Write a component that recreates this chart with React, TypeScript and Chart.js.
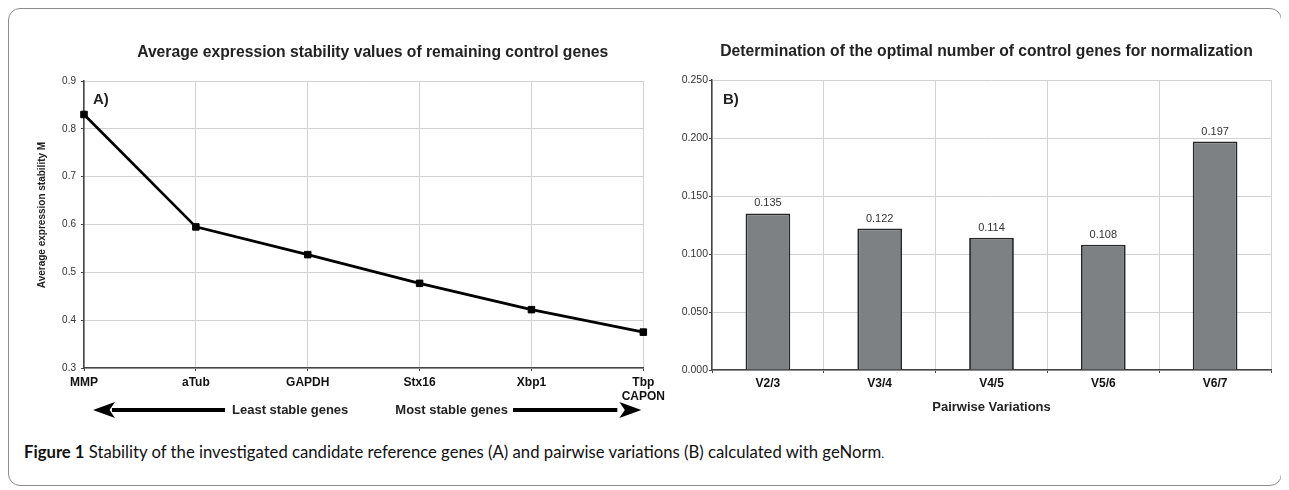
import React, { useEffect, useRef } from "react";
import { Chart, registerables } from "chart.js";

Chart.register(...registerables);

// ---------- data ----------
const geneLabels: (string | string[])[] = ["MMP", "aTub", "GAPDH", "Stx16", "Xbp1", ["Tbp", "CAPON"]];
const stabilityM = [0.83, 0.595, 0.537, 0.477, 0.422, 0.375];
const mAxisMin = 0.3;
const mAxisMax = 0.9;
const mAxisStep = 0.1;

const pairLabels = ["V2/3", "V3/4", "V4/5", "V5/6", "V6/7"];
const pairValues = [0.135, 0.122, 0.114, 0.108, 0.197];
const vAxisMin = 0;
const vAxisMax = 0.25;
const vAxisStep = 0.05;

const titleA = "Average expression stability values of remaining control genes";
const titleB = "Determination of the optimal number of control genes for normalization";
const yTitleA = "Average expression stability M";
const xTitleB = "Pairwise Variations";
const leastText = "Least stable genes";
const mostText = "Most stable genes";

const FONT = "'Liberation Sans', Arial, sans-serif";
const GRID = "#d2d2d2";
const AXIS = "#444";

function arrowHead(ctx: CanvasRenderingContext2D, tipX: number, baseX: number, y: number, half: number) {
  ctx.beginPath();
  ctx.moveTo(tipX, y);
  ctx.lineTo(baseX, y - half);
  ctx.lineTo(baseX - (baseX - tipX) * 0.25, y);
  ctx.lineTo(baseX, y + half);
  ctx.closePath();
  ctx.fill();
}

const annotA = {
  id: "annotA",
  afterDraw(chart: any) {
    const { ctx, chartArea } = chart;
    const { left, right, top, bottom } = chartArea;
    ctx.save();
    ctx.fillStyle = "#222";
    ctx.textAlign = "center";
    ctx.textBaseline = "middle";
    ctx.font = `bold 15.7px ${FONT}`;
    ctx.fillText(titleA, (left + right) / 2 + 9, top - 28);
    // panel letter
    ctx.textAlign = "left";
    ctx.font = `bold 15px ${FONT}`;
    ctx.fillText("A)", left + 9, top + 19);
    // y title
    ctx.save();
    ctx.translate(33, top + 134);
    ctx.rotate(-Math.PI / 2);
    ctx.textAlign = "center";
    ctx.font = `bold 10px ${FONT}`;
    ctx.fillText(yTitleA, 0, 0);
    ctx.restore();
    // arrows
    const y = bottom + 42;
    ctx.fillStyle = "#000";
    ctx.fillRect(left + 28, y - 2, 141 - 28, 4);
    arrowHead(ctx, left + 9, left + 31, y, 8);
    ctx.fillRect(left + 429, y - 2, right - 26 - (left + 429), 4);
    arrowHead(ctx, right - 2, right - 24, y, 8);
    ctx.fillStyle = "#222";
    ctx.font = `bold 13px ${FONT}`;
    ctx.textAlign = "left";
    ctx.fillText(leastText, left + 148, y);
    ctx.textAlign = "right";
    ctx.fillText(mostText, left + 424, y);
    ctx.restore();
  },
};

const annotB = {
  id: "annotB",
  afterDraw(chart: any) {
    const { ctx, chartArea } = chart;
    const { left, right, top, bottom } = chartArea;
    ctx.save();
    ctx.fillStyle = "#222";
    ctx.textAlign = "center";
    ctx.textBaseline = "middle";
    ctx.font = `bold 15.7px ${FONT}`;
    ctx.fillText(titleB, (left + right) / 2 - 5, top - 28);
    ctx.font = `bold 13px ${FONT}`;
    ctx.fillText(xTitleB, (left + right) / 2, bottom + 37);
    ctx.textAlign = "left";
    ctx.font = `bold 15px ${FONT}`;
    ctx.fillText("B)", left + 11, top + 20);
    // value labels
    const meta = chart.getDatasetMeta(0);
    ctx.fillStyle = "#333";
    ctx.textAlign = "center";
    ctx.font = `11px ${FONT}`;
    meta.data.forEach((bar: any, i: number) => {
      ctx.fillText(pairValues[i].toFixed(3), bar.x, bar.y - 10);
    });
    ctx.restore();
  },
};

export default function App() {
  const c1 = useRef<HTMLCanvasElement>(null);
  const c2 = useRef<HTMLCanvasElement>(null);

  useEffect(() => {
    const chartA = new Chart(c1.current!, {
      type: "line",
      data: {
        labels: geneLabels as any,
        datasets: [
          {
            data: stabilityM,
            borderColor: "#000",
            backgroundColor: "#000",
            borderWidth: 2.7,
            pointStyle: "rect",
            pointRadius: 4.6,
            pointBorderWidth: 1,
            pointBackgroundColor: "#000",
            pointBorderColor: "#000",
            tension: 0,
          },
        ],
      },
      options: {
        responsive: false,
        animation: false,
        layout: { padding: { top: 72, right: 22, bottom: 11, left: 0 } },
        plugins: { legend: { display: false }, tooltip: { enabled: false }, title: { display: false } },
        scales: {
          x: {
            offset: false,
            grid: { color: GRID, tickColor: AXIS, tickLength: 3, lineWidth: 1 },
            border: { color: AXIS, width: 1.5 },
            ticks: {
              autoSkip: false,
              maxRotation: 0,
              padding: 4,
              color: "#111",
              font: { family: FONT, size: 12, weight: "bold" },
            },
            afterFit(s: any) {
              s.height = 50;
            },
          },
          y: {
            min: mAxisMin,
            max: mAxisMax,
            grid: { color: GRID, tickColor: AXIS, tickLength: 3, lineWidth: 1 },
            border: { color: AXIS, width: 1.5 },
            ticks: {
              stepSize: mAxisStep,
              padding: 5,
              color: "#333",
              font: { family: FONT, size: 10 },
              callback: (v: any) => Number(v).toFixed(1),
            },
            afterFit(s: any) {
              s.width = 75;
            },
          },
        },
      },
      plugins: [annotA],
    });

    const chartB = new Chart(c2.current!, {
      type: "bar",
      data: {
        labels: pairLabels,
        datasets: [
          {
            data: pairValues,
            backgroundColor: "#7e8184",
            borderColor: "#262626",
            borderWidth: 1.8,
            barPercentage: 0.4,
            categoryPercentage: 1,
          },
        ],
      },
      options: {
        responsive: false,
        animation: false,
        layout: { padding: { top: 71, right: 10, bottom: 9, left: 0 } },
        plugins: { legend: { display: false }, tooltip: { enabled: false }, title: { display: false } },
        scales: {
          x: {
            offset: true,
            grid: { offset: true, color: GRID, tickColor: AXIS, tickLength: 3, lineWidth: 1 },
            border: { color: AXIS, width: 1.5 },
            ticks: {
              autoSkip: false,
              maxRotation: 0,
              padding: 3,
              color: "#111",
              font: { family: FONT, size: 12, weight: "bold" },
            },
            afterFit(s: any) {
              s.height = 50;
            },
          },
          y: {
            min: vAxisMin,
            max: vAxisMax,
            grid: { color: GRID, tickColor: AXIS, tickLength: 3, lineWidth: 1 },
            border: { color: AXIS, width: 1.5 },
            ticks: {
              stepSize: vAxisStep,
              padding: 1,
              color: "#333",
              font: { family: FONT, size: 10.5 },
              callback: (v: any) => Number(v).toFixed(3),
            },
            afterFit(s: any) {
              s.width = 43;
            },
          },
        },
      },
      plugins: [annotB],
    });

    return () => {
      chartA.destroy();
      chartB.destroy();
    };
  }, []);

  return (
    <div
      style={{
        position: "relative",
        width: 1274,
        height: 478,
        border: "1px solid #8c8c8c",
        borderRadius: 12,
        boxSizing: "border-box",
        background: "#fff",
      }}
    >
      <canvas ref={c1} width={660} height={420} style={{ position: "absolute", left: 0, top: 0 }} />
      <canvas ref={c2} width={612} height={420} style={{ position: "absolute", left: 660, top: 0 }} />
      <div
        style={{
          position: "absolute",
          left: 15,
          top: 433,
          fontFamily: "Lato, 'Open Sans', sans-serif",
          fontSize: 16.7,
          color: "#111",
          whiteSpace: "nowrap",
          lineHeight: "20px",
        }}
      >
        <b>Figure 1</b> Stability of the investigated candidate reference genes (A) and pairwise variations (B)
        calculated with geNorm<span style={{ fontSize: 12 }}>.</span>
      </div>
    </div>
  );
}
